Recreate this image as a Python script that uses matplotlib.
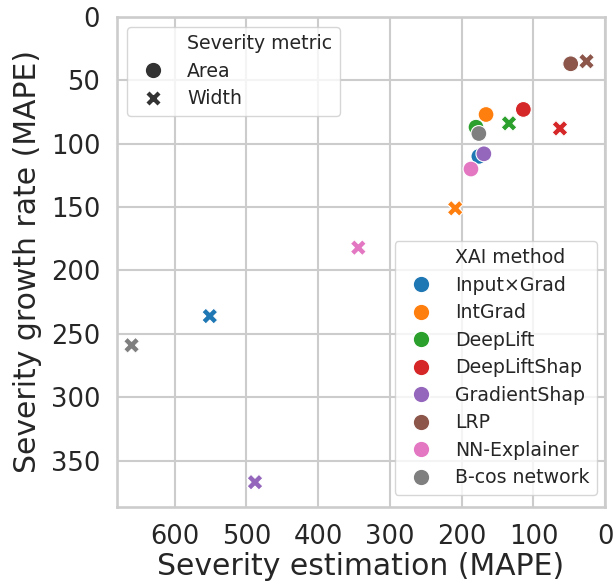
import matplotlib
matplotlib.use("Agg")
import matplotlib.pyplot as plt
from matplotlib.lines import Line2D
import seaborn as sns

sns.set_theme(style="whitegrid")
plt.rcParams['font.family'] = ['DejaVu Sans']

methods = ["Input×Grad", "IntGrad", "DeepLift", "DeepLiftShap", "GradientShap",
           "LRP", "NN-Explainer", "B-cos network"]
colors = ["#1f77b4", "#ff7f0e", "#2ca02c", "#d62728", "#9467bd",
          "#8c564b", "#e377c2", "#7f7f7f"]

# Severity estimation (MAPE), Severity growth rate (MAPE)
area_x = [176, 166, 180, 114, 169, 48, 187, 176]
area_y = [110, 77, 87, 73, 108, 37, 120, 92]
width_x = [551, 209, 134, 63, 488, 26, 344, 660]
width_y = [236, 151, 84, 88, 367, 35, 182, 259]

fig = plt.figure(figsize=(6.15, 5.82), dpi=100)
ax = fig.add_axes([0.190, 0.129, 0.794, 0.842])

S = 130
ax.scatter(width_x, width_y, c=colors, marker="X", s=S, edgecolors="white",
           linewidths=0.8, zorder=3)
ax.scatter(area_x, area_y, c=colors, marker="o", s=S, edgecolors="white",
           linewidths=0.8, zorder=3)

ax.set_xlim(680.5, 0)
ax.set_ylim(386.5, 0)
ax.set_xticks([600, 500, 400, 300, 200, 100, 0])
ax.set_yticks([0, 50, 100, 150, 200, 250, 300, 350])
ax.tick_params(labelsize=18.5, colors=".15", pad=6)
ax.set_xlabel("Severity estimation (MAPE)", fontsize=21.5, color=".15", labelpad=2)
ax.set_ylabel("Severity growth rate (MAPE)", fontsize=21.5, color=".15", labelpad=6)
ax.grid(True, color="#cccccc", linewidth=1.5)
for sp in ax.spines.values():
    sp.set_color("#cccccc")
    sp.set_linewidth(1.9)

blank = Line2D([], [], linestyle="none", marker=None)
ms = 12
h1 = [blank,
      Line2D([], [], linestyle="none", marker="o", markersize=ms, color="#333333",
             markeredgecolor="white"),
      Line2D([], [], linestyle="none", marker="X", markersize=ms, color="#333333",
             markeredgecolor="white")]
l1 = ["Severity metric", "Area", "Width"]
leg1 = ax.legend(h1, l1, loc="upper left", bbox_to_anchor=(0.0205, 0.9796),
                 borderaxespad=0, fontsize=13.6, frameon=True, borderpad=0.4,
                 labelspacing=0.45, handletextpad=0.8)
ax.add_artist(leg1)

h2 = [blank] + [Line2D([], [], linestyle="none", marker="o", markersize=ms,
                       color=c, markeredgecolor="white") for c in colors]
l2 = ["XAI method"] + methods
leg2 = ax.legend(h2, l2, loc="lower right", bbox_to_anchor=(0.9836, 0.0245),
                 borderaxespad=0, fontsize=13.6, frameon=True, borderpad=0.4,
                 labelspacing=0.45, handletextpad=0.8)

fig.savefig("out.png", dpi=100)
